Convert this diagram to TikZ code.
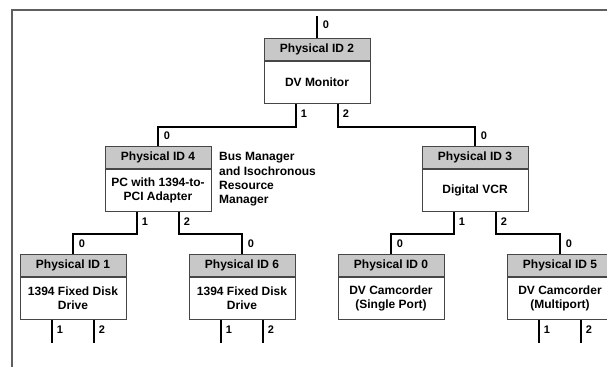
\documentclass[tikz,border=0pt]{standalone}
\usepackage{fontspec}
\setmainfont{Liberation Sans}
\usetikzlibrary{calc}
\definecolor{hdrgray}{RGB}{200,200,200}
\definecolor{boxline}{RGB}{70,70,70}
\definecolor{framegray}{RGB}{95,95,95}
\tikzset{
  hdr/.style={draw=boxline, fill=hdrgray, line width=0.8pt, minimum width=106pt, minimum height=22pt, inner sep=0pt, font=\fontsize{12}{14}\selectfont\bfseries, anchor=north},
  bdy/.style={draw=boxline, fill=white, line width=0.8pt, minimum width=106pt, minimum height=42pt, inner sep=0pt, align=center, font=\fontsize{12}{14}\selectfont\bfseries, anchor=north},
  conn/.style={line width=2pt, black},
  lbl/.style={font=\fontsize{11}{13}\selectfont\bfseries, inner sep=0pt},
  framestyle/.style={line width=1.3pt, framegray}
}
\begin{document}
\begin{tikzpicture}[x=1pt,y=-1pt]
\useasboundingbox (0,0) rectangle (607,367);
% frame
\draw[framestyle] (12,367) -- (12,10) -- (607,10);

% boxes
\node[hdr] (h2) at (317,38) {Physical ID 2};
\node[bdy] (b2) at (h2.south) {DV Monitor};
\node[hdr] (h4) at (158,146) {Physical ID 4};
\node[bdy] (b4) at (h4.south) {PC with 1394-to-\\PCI Adapter};
\node[hdr] (h3) at (475,146) {Physical ID 3};
\node[bdy] (b3) at (h3.south) {Digital VCR};
\node[hdr] (h1) at (73,254) {Physical ID 1};
\node[bdy] (b1) at (h1.south) {1394 Fixed Disk\\Drive};
\node[hdr] (h6) at (242,254) {Physical ID 6};
\node[bdy] (b6) at (h6.south) {1394 Fixed Disk\\Drive};
\node[hdr] (h0) at (391,254) {Physical ID 0};
\node[bdy] (b0) at (h0.south) {DV Camcorder\\(Single Port)};
\node[hdr] (h5) at (560,254) {Physical ID 5};
\node[bdy] (b5) at (h5.south) {DV Camcorder\\(Multiport)};

\node[anchor=north west, align=left, inner sep=0pt, font=\fontsize{12}{14.3}\selectfont\bfseries] (note) at (219,152.5) {Bus Manager\\and Isochronous\\Resource\\Manager};

% ports
\foreach \b in {2,4,3,1,6,5}{
  \coordinate (\b p1) at ($(b\b.south)+(-21,0)$);
  \coordinate (\b p2) at ($(b\b.south)+(21,0)$);
}
\coordinate (top2) at (317,16);

% connectors
\draw[conn] (top2) -- (h2.north);
\draw[conn] (2p1) -- ++(0,23) -| (h4.north);
\draw[conn] (2p2) -- ++(0,23) -| (h3.north);
\draw[conn] (4p1) -- ++(0,22) -| (h1.north);
\draw[conn] (4p2) -- ++(0,22) -| (h6.north);
\draw[conn] (3p1) -- ++(0,22) -| (h0.north);
\draw[conn] (3p2) -- ++(0,22) -| (h5.north);
\foreach \b in {1,6,5}{
  \coordinate (\b e1) at ($(\b p1)+(0,23)$);
  \coordinate (\b e2) at ($(\b p2)+(0,23)$);
  \draw[conn] (\b p1) -- (\b e1);
  \draw[conn] (\b p2) -- (\b e2);
}

% labels
\node[lbl] (l2in) at ($(h2.north)+(9,-13)$) {0};
\foreach \b in {4,3,1,6,0,5}{
  \node[lbl] (l\b in) at ($(h\b.north)+(9,-10)$) {0};
}
\foreach \b in {2,4,3,1,6,5}{
  \node[lbl] (l\b a) at ($(\b p1)+(8,10)$) {1};
  \node[lbl] (l\b b) at ($(\b p2)+(8,10)$) {2};
}
\end{tikzpicture}
\end{document}
